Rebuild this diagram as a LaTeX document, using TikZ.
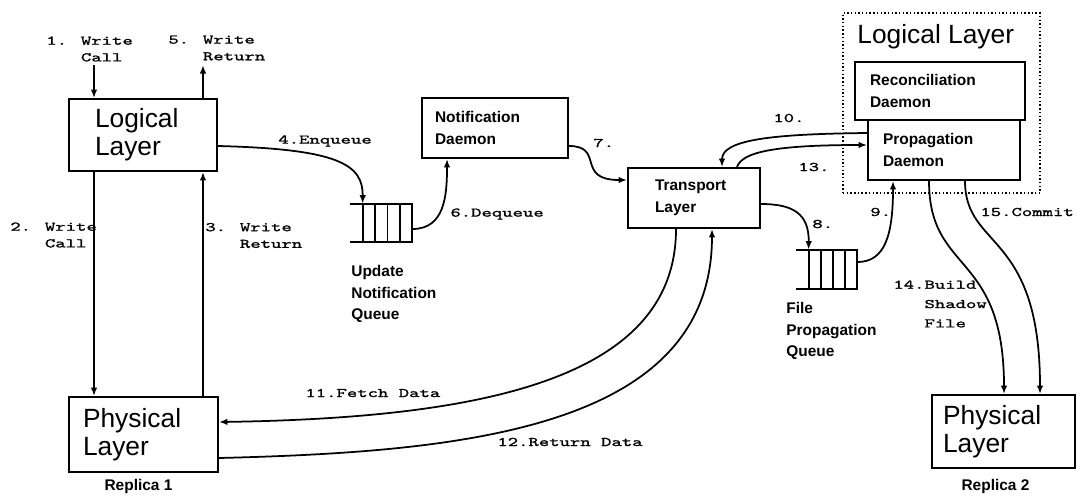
\documentclass[tikz,border=0pt]{standalone}
\usepackage{fontspec}
\setmainfont{Liberation Sans}
\newfontfamily\lblfont[FakeStretch=1.5,FakeBold=1.4]{lmmono10-regular.otf}
\usetikzlibrary{arrows.meta,positioning,calc}
\tikzset{
  layer/.style={draw,line width=1.1pt,align=left,inner ysep=0pt,font=\fontsize{15}{16}\selectfont},
  daemon/.style={draw,line width=1.1pt,align=left,inner ysep=0pt,font=\fontsize{8.8}{12.3}\selectfont\bfseries},
  group/.style={draw,line width=.7pt,dash pattern=on .8pt off 1.3pt,inner sep=0pt},
  queue/.style={inner sep=0pt},
  qline/.style={line width=1pt},
  lbl/.style={inner sep=0pt,anchor=west,align=left,font=\lblfont\fontsize{7.5}{9.5}\selectfont},
  qname/.style={inner sep=0pt,align=left,font=\fontsize{8.8}{12.3}\selectfont\bfseries},
  flow/.style={-{Latex[length=1.7mm,width=1.3mm]},line width=1pt}
}

\begin{document}
\begin{tikzpicture}[x=0.02cm,y=-0.02cm]
  \useasboundingbox (0,0) rectangle (1077,498);

  % replica 1
  \node[layer,text width=1.92cm,inner xsep=.52cm,minimum height=1.44cm] (ll) at (143,135) {Logical\\Layer};
  \node[layer,text width=2.42cm,inner xsep=.28cm,minimum height=1.5cm] (pl) at (143.5,434.5) {Physical\\Layer};
  \node[qname,below=.12cm of pl,xshift=-.1cm] (rep1) {Replica 1};

  % update notification queue
  \node[queue,minimum width=.98cm,minimum height=.76cm] (uq) at (387.5,223) {};
  \draw[qline] ([xshift=-.26cm]uq.north west) -- (uq.north east) -- (uq.south east) -- ([xshift=-.26cm]uq.south west);
  \foreach \k in {0,1,2,3}
    \draw[qline] ($(uq.north west)!\k/4!(uq.north east)$) -- ($(uq.south west)!\k/4!(uq.south east)$);
  \node[qname,anchor=north west] (uqname) at (351,265) {Update\\Notification\\Queue};

  \node[daemon,text width=2.4cm,inner xsep=.26cm,minimum height=1.2cm] (nd) at (495,128) {Notification\\Daemon};
  \node[daemon,text width=1.56cm,inner xsep=.54cm,minimum height=1.2cm] (tl) at (694,198) {Transport\\Layer};

  % file propagation queue
  \node[queue,minimum width=.96cm,minimum height=.78cm] (fq) at (833,269.5) {};
  \draw[qline] ([xshift=-.26cm]fq.north west) -- (fq.north east) -- (fq.south east) -- ([xshift=-.26cm]fq.south west);
  \foreach \k in {0,1,2,3}
    \draw[qline] ($(fq.north west)!\k/4!(fq.north east)$) -- ($(fq.south west)!\k/4!(fq.south east)$);
  \node[qname,anchor=north west] (fqname) at (786,302) {File\\Propagation\\Queue};

  % replica 2
  \node[group,minimum width=3.94cm,minimum height=3.6cm] (lr) at (941.5,103) {};
  \node[inner sep=0pt,anchor=west,font=\fontsize{15}{16}\selectfont] (lrtitle) at (857,37) {Logical Layer};
  \node[daemon,text width=2.8cm,inner xsep=.3cm,minimum height=1.16cm] (rd) at (940,91) {Reconciliation\\Daemon};
  \node[daemon,text width=2.44cm,inner xsep=.3cm,minimum height=1.2cm] (pd) at (944,150) {Propagation\\Daemon};
  \node[layer,text width=2.42cm,inner xsep=.22cm,minimum height=1.46cm] (pr) at (1003.5,431.5) {Physical\\Layer};
  \node[qname,below=.2cm of pr,xshift=-.16cm] (rep2) {Replica 2};

  % write path
  \coordinate (c1) at (94,65);
  \coordinate (c5) at (203,65);
  \draw[flow] (c1) -- (c1 |- ll.north);
  \draw[flow] (c5 |- ll.north) -- (c5);
  \draw[flow] (c1 |- ll.south) -- (c1 |- pl.north);
  \draw[flow] (c5 |- pl.north) -- (c5 |- ll.south);
  \node[lbl] (t1) at (46,49) {1. Write\\\hphantom{1. }Call};
  \node[lbl] (t5) at (168,48) {5. Write\\\hphantom{5. }Return};
  \node[lbl] (t2) at (10,235) {2. Write\\\hphantom{2. }Call};
  \node[lbl] (t3) at (205,235.5) {3. Write\\\hphantom{3. }Return};

  % notification
  \draw[flow] ([yshift=-.22cm]ll.east) .. controls (340,149) and (363,165) .. (uq.north west);
  \node[lbl] (t4) at (278,141) {4.Enqueue};
  \draw[flow] ([yshift=-.12cm]uq.east) .. controls (445,229) and (447,195) .. ([xshift=-.96cm]nd.south);
  \node[lbl] (t6) at (450,214) {6.Dequeue};
  \draw[flow] ([yshift=-.36cm]nd.east) .. controls (605,146) and (575,180) .. ([yshift=.36cm]tl.west);
  \node[lbl] (t7) at (593,143) {7.};

  % propagation
  \draw[flow] ([yshift=-.12cm]tl.east) .. controls (795,204) and (809,215) .. (fq.north west);
  \node[lbl] (t8) at (812,224) {8.};
  \draw[flow] ([yshift=.15cm]fq.east) .. controls (885,262) and (893,235) .. ([xshift=-1.02cm]pd.south);
  \node[lbl] (t9) at (870,212) {9.};
  \draw[flow] ([yshift=.34cm]pd.west) .. controls (770,134) and (722,140) .. ([xshift=.56cm]tl.north);
  \node[lbl] (t10) at (773,118) {10.};
  \draw[flow] ([xshift=.86cm]tl.north) .. controls (742,152) and (775,145) .. ([yshift=.1cm]pd.west);
  \node[lbl] (t13) at (798,167) {13.};

  % data transfer
  \draw[flow] ([xshift=-.36cm]tl.south) .. controls (676,380) and (480,418) .. ([yshift=.25cm]pl.east);
  \node[lbl] (t11) at (305,393) {11.Fetch Data};
  \draw[flow] ([yshift=-.47cm]pl.east) .. controls (460,452) and (712,430) .. ([xshift=.36cm]tl.south);
  \node[lbl] (t12) at (497,442) {12.Return Data};

  % commit
  \draw[flow] ([xshift=-.3cm]pd.south) .. controls (929,275) and (1004,250) .. ([xshift=.01cm]pr.north);
  \node[lbl,font=\lblfont\fontsize{7.5}{11}\selectfont] (t14) at (893,304) {14.Build\\\hphantom{14.}Shadow\\\hphantom{14.}File};
  \draw[flow] ([xshift=.42cm]pd.south) .. controls (965,250) and (1040,230) .. ([xshift=.73cm]pr.north);
  \node[lbl] (t15) at (980,212) {15.Commit};
\end{tikzpicture}
\end{document}
